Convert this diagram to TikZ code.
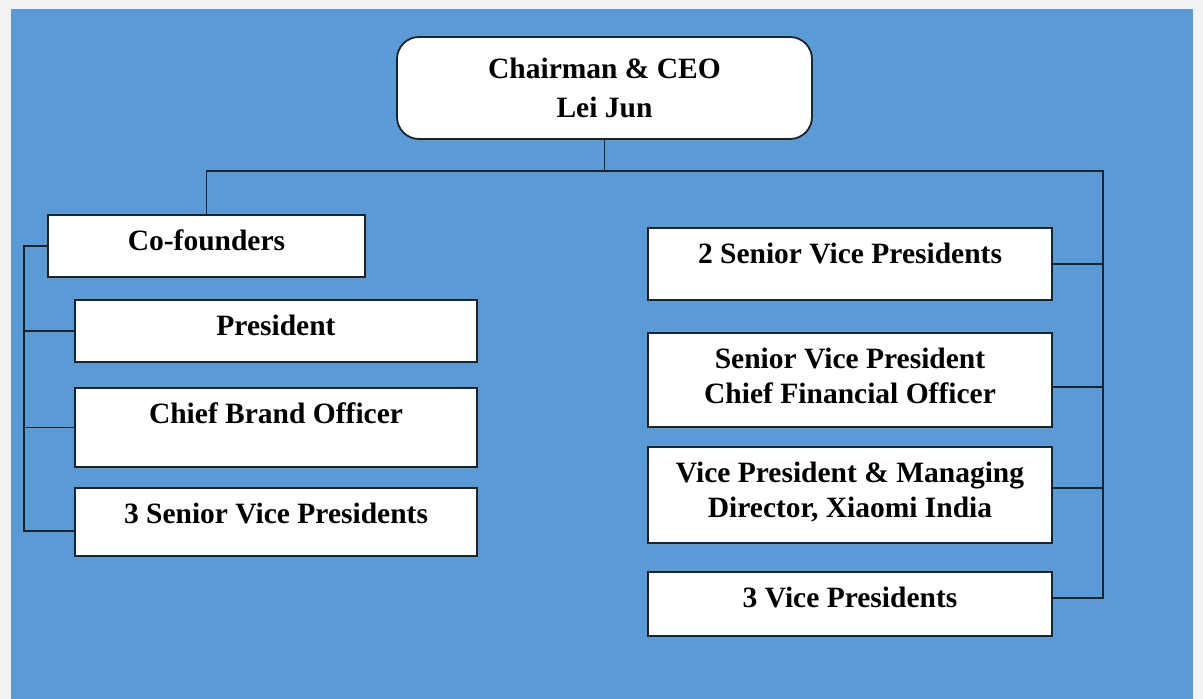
\documentclass[tikz,border=0pt]{standalone}
\usepackage{fontspec}
\setmainfont{Liberation Serif}

\definecolor{chartblue}{RGB}{91,155,213}
\definecolor{pagegray}{RGB}{242,242,242}
\definecolor{inkline}{RGB}{28,34,42}

\tikzset{
  post/.style={draw=inkline, line width=1.8pt, fill=white, anchor=north west,
    inner sep=0pt, outer sep=0pt},
  title/.style={anchor=north, yshift=-15pt, align=center, inner sep=0pt,
    font=\bfseries\fontsize{29.5}{35}\selectfont},
  link/.style={draw=inkline, line width=1.9pt},
}

\begin{document}
\begin{tikzpicture}[x=1pt,y=-1pt]

  % page and panel
  \fill[pagegray] (0,0) rectangle (1203,699);
  \fill[chartblue] (11,9) rectangle (1193,699);

  % top
  \node[post, rounded corners=22pt, minimum width=415pt, minimum height=102pt,
    align=center, font=\bfseries\fontsize{29.5}{39}\selectfont] (chair) at (397,37)
    {Chairman \& CEO\\Lei Jun};

  % left column
  \node[post, minimum width=317pt, minimum height=62pt,
    label={[title]north:Co-founders}] (cof) at (48,215) {};
  \node[post, minimum width=402pt, minimum height=62pt,
    label={[title]north:President}] (pres) at (75,300) {};
  \node[post, minimum width=402pt, minimum height=79pt,
    label={[title]north:Chief Brand Officer}] (cbo) at (75,388) {};
  \node[post, minimum width=402pt, minimum height=68pt,
    label={[title]north:3 Senior Vice Presidents}] (svp3) at (75,488) {};

  % right column
  \node[post, minimum width=404pt, minimum height=72pt,
    label={[title]north:2 Senior Vice Presidents}] (svp2) at (648,228) {};
  \node[post, minimum width=404pt, minimum height=94pt,
    label={[title]north:Senior Vice President\\Chief Financial Officer}] (cfo) at (648,333) {};
  \node[post, minimum width=404pt, minimum height=96pt,
    label={[title]north:Vice President \& Managing\\Director, Xiaomi India}] (vpin) at (648,447) {};
  \node[post, minimum width=404pt, minimum height=64pt,
    label={[title]north:3 Vice Presidents}] (vp3) at (648,572) {};

  % buses
  \coordinate (hub) at (chair.south |- 0,171);
  \coordinate (lbus) at (24,0);
  \coordinate (rbus) at (1103,0);
  \coordinate (svp3-stub) at ([yshift=-9pt]svp3.west);
  \coordinate (vp3-stub) at ([yshift=6pt]vp3.east);

  \draw[link] (chair.south) -- (hub);
  \draw[link] (cof.north) |- (hub) -| (vp3-stub -| rbus) -- (vp3-stub);
  \draw[link] (cof.west) -| (svp3-stub -| lbus) -- (svp3-stub);
  \foreach \b in {pres,cbo}
    \draw[link] (\b.west) -- (\b.west -| lbus);
  \foreach \b/\dy in {svp2/0,cfo/-7,vpin/7} {
    \coordinate (\b-stub) at ([yshift=\dy pt]\b.east);
    \draw[link] (\b-stub) -- (\b-stub -| rbus);
  }

\end{tikzpicture}
\end{document}
